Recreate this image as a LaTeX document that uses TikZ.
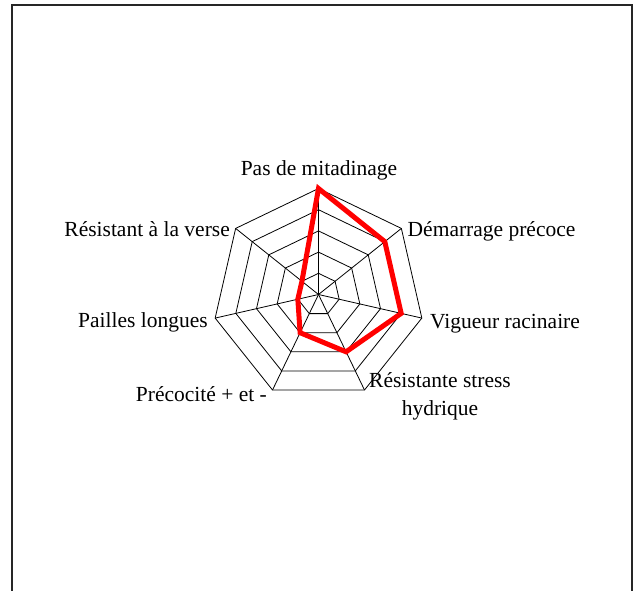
\documentclass[tikz,border=0pt]{standalone}
\usepackage{fontspec}
\setmainfont{Liberation Serif}
\begin{document}
\begin{tikzpicture}[x=1pt,y=-1pt,
  ring/.style={draw=black, line width=0.8pt},
  spoke/.style={draw=black, line width=0.8pt},
  series/.style={draw=red, line width=5pt, line join=miter},
  axislabel/.style={font=\fontsize{21.5}{28}\selectfont, inner sep=0pt},
  frameline/.style={draw=black!85, line width=1.5pt}]
\useasboundingbox (0,0) rectangle (636,590);

% outer frame, open at the bottom
\draw[frameline] (12,600) -- (12,5) -- (632,5) -- (632,600);

% radar chart: 7 axes, 5 levels
\begin{scope}[shift={(318.5,294.5)}]
  \coordinate (o) at (0,0);
  \foreach \i in {0,...,6} {
    \coordinate (a\i) at (\i*360/7-90:106);
  }
  \foreach \k in {1,...,5} {
    \draw[ring] (-90:\k*21.2) \foreach \i in {1,...,6} { -- (\i*360/7-90:\k*21.2) } -- cycle;
  }
  \foreach \i in {0,...,6} {
    \draw[spoke] (o) -- (a\i);
  }
  % series values: 5,4,4,3,2,1,1
  \coordinate (p0) at (-90:106);
  \coordinate (p1) at (360/7-90:84.8);
  \coordinate (p2) at (2*360/7-90:84.8);
  \coordinate (p3) at (3*360/7-90:63.6);
  \coordinate (p4) at (4*360/7-90:42.4);
  \coordinate (p5) at (5*360/7-90:21.2);
  \coordinate (p6) at (6*360/7-90:21.2);
  \draw[series] (p0) -- (p1) -- (p2) -- (p3) -- (p4) -- (p5) -- (p6) -- cycle;
\end{scope}

% axis labels
\node[axislabel, anchor=base] (l0) at (319,175.7) {Pas de mitadinage};
\node[axislabel, anchor=base west] (l1) at (407.5,236) {Démarrage précoce};
\node[axislabel, anchor=base west] (l2) at (430,328) {Vigueur racinaire};
\node[axislabel, anchor=base, align=center] (l3) at (440,415) {Résistante stress\\hydrique};
\node[axislabel, anchor=base east] (l4) at (267,401.7) {Précocité + et -};
\node[axislabel, anchor=base east] (l5) at (208,327.7) {Pailles longues};
\node[axislabel, anchor=base east] (l6) at (230,236) {Résistant à la verse};
\end{tikzpicture}
\end{document}
